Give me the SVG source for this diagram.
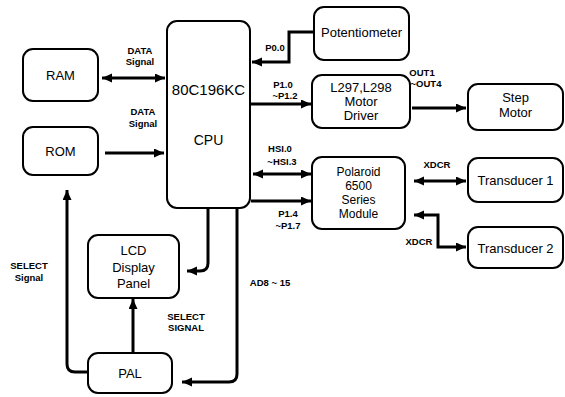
<svg xmlns="http://www.w3.org/2000/svg" width="565" height="397" viewBox="0 0 565 397">
<defs>
<style>
.box{fill:#fff;stroke:#000;stroke-width:2}
.bt{font-family:"Liberation Sans",Arial,sans-serif;font-size:13px;fill:#000;text-anchor:middle}
.lb{font-family:"Liberation Sans",Arial,sans-serif;font-size:9.5px;font-weight:bold;fill:#000;text-anchor:middle}
.cn{fill:none;stroke:#000;stroke-width:3}
.a1{marker-end:url(#ah)}
.a2{marker-end:url(#ah);marker-start:url(#ah)}
</style>
<marker id="ah" markerUnits="userSpaceOnUse" markerWidth="12" markerHeight="10" refX="10" refY="4.5" orient="auto-start-reverse">
<path d="M0,0 L10,4.5 L0,9 z" fill="#000"/>
</marker>
</defs>
<rect width="565" height="397" fill="#fff"/>
<g id="connectors">
<line class="cn a2" x1="102" y1="78" x2="165" y2="78"/>
<line class="cn a1" x1="105" y1="153" x2="164" y2="153"/>
<path class="cn a1" d="M314,32 H289 V62 H252"/>
<line class="cn a1" x1="251" y1="104" x2="311" y2="104"/>
<line class="cn a1" x1="412" y1="108" x2="466" y2="108"/>
<line class="cn a2" x1="253" y1="174" x2="311" y2="174"/>
<line class="cn a1" x1="251" y1="201" x2="311" y2="201"/>
<line class="cn a2" x1="414" y1="181" x2="466" y2="181"/>
<path class="cn a2" d="M414,215 H438 V247 H466"/>
<path class="cn a1" d="M208,209 V263 Q208,271 200,271 H187"/>
<path class="cn a1" d="M237,209 V374 Q237,382 229,382 H182"/>
<line class="cn a1" x1="133" y1="353" x2="133" y2="299"/>
<path class="cn a1" d="M88,372 H75 Q67,372 67,364 V190"/>
</g>
<g id="labels">
<text class="lb" x="140" y="54">DATA</text>
<text class="lb" x="140" y="65">Signal</text>
<text class="lb" x="143" y="115">DATA</text>
<text class="lb" x="143" y="127">Signal</text>
<text class="lb" x="275" y="51">P0.0</text>
<text class="lb" x="283" y="88">P1.0</text>
<text class="lb" x="285" y="99">~P1.2</text>
<text class="lb" x="422" y="76">OUT1</text>
<text class="lb" x="426" y="87">~OUT4</text>
<text class="lb" x="280" y="152">HSI.0</text>
<text class="lb" x="282" y="165">~HSI.3</text>
<text class="lb" x="288" y="217">P1.4</text>
<text class="lb" x="288" y="229">~P1.7</text>
<text class="lb" x="437" y="168">XDCR</text>
<text class="lb" x="419" y="245">XDCR</text>
<text class="lb" x="270" y="286">AD8 ~ 15</text>
<text class="lb" x="186" y="320">SELECT</text>
<text class="lb" x="186" y="331">SIGNAL</text>
<text class="lb" x="29" y="269">SELECT</text>
<text class="lb" x="29" y="281">Signal</text>
</g>
<g id="ram"><rect class="box" x="23" y="49" width="75" height="52" rx="10"/><text class="bt" x="60.5" y="80">RAM</text></g>
<g id="rom"><rect class="box" x="23" y="127" width="75" height="48" rx="10"/><text class="bt" x="60.5" y="156">ROM</text></g>
<g id="cpu"><rect class="box" x="167" y="21" width="83" height="187" rx="10"/><text class="bt" x="208.5" y="95" style="font-size:15px">80C196KC</text><text class="bt" x="208.5" y="145" style="font-size:14px">CPU</text></g>
<g id="potentiometer"><rect class="box" x="314" y="7" width="95" height="53" rx="10"/><text class="bt" x="361.5" y="37">Potentiometer</text></g>
<g id="motor-driver"><rect class="box" x="312" y="75" width="98" height="53" rx="10"/><text class="bt" x="361" y="92">L297,L298</text><text class="bt" x="361" y="106">Motor</text><text class="bt" x="361" y="120">Driver</text></g>
<g id="step-motor"><rect class="box" x="468" y="84" width="95" height="46" rx="10"/><text class="bt" x="515.5" y="102">Step</text><text class="bt" x="515.5" y="117">Motor</text></g>
<g id="polaroid"><rect class="box" x="312" y="157" width="93" height="72" rx="10"/><text class="bt" x="358.5" y="176" style="font-size:12px">Polaroid</text><text class="bt" x="358.5" y="190" style="font-size:12px">6500</text><text class="bt" x="358.5" y="204" style="font-size:12px">Series</text><text class="bt" x="358.5" y="218" style="font-size:12px">Module</text></g>
<g id="transducer1"><rect class="box" x="468" y="158" width="95" height="44" rx="10"/><text class="bt" x="515.5" y="185">Transducer 1</text></g>
<g id="transducer2"><rect class="box" x="468" y="227" width="95" height="41" rx="10"/><text class="bt" x="515.5" y="253">Transducer 2</text></g>
<g id="lcd"><rect class="box" x="88" y="235" width="91" height="63" rx="10"/><text class="bt" x="133.5" y="255">LCD</text><text class="bt" x="133.5" y="272">Display</text><text class="bt" x="133.5" y="288">Panel</text></g>
<g id="pal"><rect class="box" x="88" y="353" width="84" height="40" rx="10"/><text class="bt" x="130" y="378">PAL</text></g>
</svg>
